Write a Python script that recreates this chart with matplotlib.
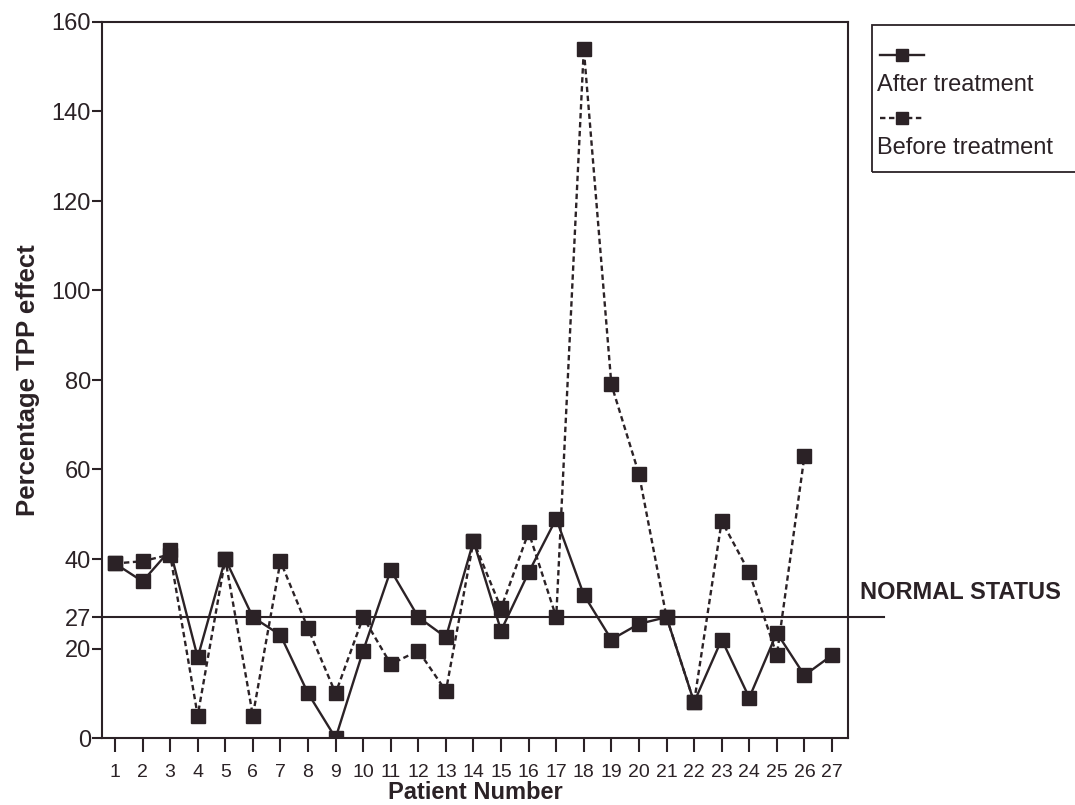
import matplotlib.pyplot as plt
from matplotlib.lines import Line2D
from matplotlib.patches import Rectangle

plt.rcParams['font.family'] = ['Liberation Sans', 'DejaVu Sans']

patients = list(range(1, 28))
after = [39, 35, 42, 18, 40, 27, 23, 10, 0, 19.5, 37.5, 27, 22.5, 44,
         24, 37, 49, 32, 22, 25.5, 27, 8, 22, 9, 23.5, 14, 18.5]
before = [39, 39.5, 41, 5, 40, 5, 39.5, 24.5, 10, 27, 16.5, 19.5, 10.5, 44,
          29, 46, 27, 154, 79, 59, 27, 8, 48.5, 37, 18.5, 63]
normal_status = 27
y_ticks = [0, 20, 27, 40, 60, 80, 100, 120, 140, 160]

ink = '#2b2226'
dash = (0, (2.3, 1.5))

fig = plt.figure(figsize=(10.75, 8.05), dpi=100)
ax = fig.add_axes([102 / 1075, 1 - 738 / 805, 746 / 1075, 716 / 805])

ax.plot(patients, after, color=ink, lw=1.7, marker='s', ms=9.5,
        mfc=ink, mec=ink, zorder=3)
ax.plot(patients[:len(before)], before, color=ink, lw=1.7, ls=dash,
        marker='s', ms=9.5, mfc=ink, mec=ink, zorder=3)

ax.set_xlim(0.53, 27.58)
ax.set_ylim(0, 160)
# normal status line runs past the right spine
ax.plot([0.53, 28.9], [normal_status, normal_status], color=ink, lw=1.5,
        clip_on=False, zorder=2)
ax.text(28.0, normal_status + 5.5, 'NORMAL STATUS', fontsize=17,
        fontweight='bold', color=ink, ha='left', va='center')

ax.set_xticks(patients)
ax.set_xticklabels([str(p) for p in patients], fontsize=14)
ax.set_yticks(y_ticks)
ax.set_yticklabels([str(v) for v in y_ticks], fontsize=17)
ax.tick_params(axis='both', colors=ink, width=1.5, length=7, direction='out')
ax.tick_params(axis='y', pad=1)
ax.tick_params(axis='x', length=10, pad=9)
for s in ax.spines.values():
    s.set_color(ink)
    s.set_linewidth(1.5)

ax.set_xlabel('Patient Number', fontsize=17, fontweight='bold', color=ink,
              labelpad=0)
ax.set_ylabel('Percentage TPP effect', fontsize=18.5, fontweight='bold',
              color=ink, labelpad=8)

# legend box, drawn by hand (handle above label)
W, H = 1075, 805
fig.add_artist(Rectangle((872 / W, 1 - 172 / H), 220 / W, 147 / H,
                         transform=fig.transFigure, fill=False,
                         edgecolor=ink, lw=1.3))
fig.add_artist(Line2D([880 / W, 924 / W], [1 - 55 / H] * 2, color=ink, lw=1.7,
                      transform=fig.transFigure))
fig.add_artist(Line2D([902 / W], [1 - 55 / H], color=ink, marker='s', ms=9,
                      transform=fig.transFigure))
fig.add_artist(Line2D([880 / W, 924 / W], [1 - 118 / H] * 2, color=ink, lw=1.7,
                      ls=dash, transform=fig.transFigure))
fig.add_artist(Line2D([902 / W], [1 - 118 / H], color=ink, marker='s', ms=9,
                      transform=fig.transFigure))
fig.text(877 / W, 1 - 85 / H, 'After treatment', fontsize=17, color=ink,
         va='center', ha='left')
fig.text(877 / W, 1 - 148 / H, 'Before treatment', fontsize=17, color=ink,
         va='center', ha='left')

fig.savefig('out.png', dpi=100)
